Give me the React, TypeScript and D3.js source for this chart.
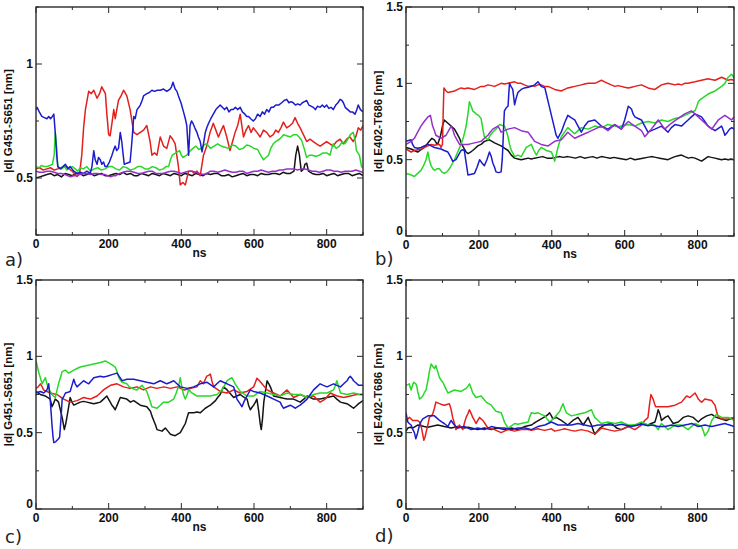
import React from "react";
import * as d3 from "d3";

type Pt = [number, number];

// ---------- x / y tick values ----------
const xMajorTicks = [0, 200, 400, 600, 800];
const xMinorTicks = [100, 300, 500, 700, 900];
const yMajorTicksTop = [0.5, 1];
const yMinorTicksTop = [0.25, 0.75, 1.25];
const yMajorTicksFull = [0, 0.5, 1, 1.5];
const yMinorTicksFull = [0.25, 0.75, 1.25];

const panelLetters = ["a)", "b)", "c)", "d)"];
const yTitles = ["|d| G451-S651 [nm]", "|d| E402-T686 [nm]", "|d| G451-S651 [nm]", "|d| E402-T686 [nm]"];
const xTitle = "ns";

const COLORS = {
  black: "#141414",
  red: "#e3201c",
  green: "#28d828",
  blue: "#1c1ccc",
  purple: "#9630cc",
};

// ---------- panel a ----------
const aBlack: Pt[] = [[0,0.50],[10,0.505],[20,0.51],[30,0.515],[40,0.52],[50,0.51],[60,0.515],[70,0.505],[80,0.52],[90,0.515],[100,0.51],[110,0.52],[120,0.52],[130,0.51],[140,0.515],[150,0.52],[160,0.51],[170,0.515],[180,0.52],[190,0.51],[200,0.51],[210,0.515],[220,0.52],[230,0.515],[240,0.525],[250,0.515],[260,0.52],[270,0.51],[280,0.51],[290,0.52],[300,0.515],[310,0.51],[320,0.52],[330,0.515],[340,0.51],[350,0.52],[360,0.515],[370,0.51],[380,0.52],[390,0.515],[400,0.51],[410,0.52],[420,0.515],[430,0.51],[440,0.52],[450,0.515],[460,0.51],[470,0.52],[480,0.515],[490,0.52],[500,0.52],[510,0.51],[520,0.51],[530,0.515],[540,0.505],[550,0.51],[560,0.515],[570,0.52],[580,0.51],[590,0.515],[600,0.515],[610,0.51],[620,0.52],[630,0.515],[640,0.515],[650,0.52],[660,0.52],[670,0.515],[680,0.525],[690,0.52],[700,0.52],[710,0.53],[715,0.6],[720,0.64],[725,0.6],[730,0.53],[737,0.54],[740,0.56],[745,0.565],[750,0.53],[760,0.52],[770,0.515],[780,0.515],[790,0.52],[800,0.51],[810,0.515],[820,0.52],[830,0.51],[840,0.515],[850,0.52],[860,0.52],[870,0.51],[880,0.515],[890,0.52],[900,0.51]];
const aRed: Pt[] = [[0,0.54],[10,0.545],[20,0.535],[30,0.54],[40,0.545],[50,0.535],[60,0.54],[70,0.545],[85,0.55],[95,0.535],[100,0.53],[113,0.507],[120,0.52],[126,0.6],[131,0.72],[136,0.8],[145,0.88],[152,0.87],[159,0.885],[168,0.85],[175,0.87],[181,0.9],[191,0.87],[195,0.78],[200,0.69],[204,0.685],[209,0.74],[214,0.8],[218,0.76],[227,0.84],[234,0.86],[241,0.885],[250,0.86],[259,0.8],[269,0.7],[278,0.69],[287,0.7],[296,0.71],[305,0.73],[314,0.66],[319,0.6],[326,0.61],[333,0.6],[342,0.68],[351,0.64],[360,0.63],[369,0.685],[376,0.67],[383,0.65],[392,0.55],[397,0.47],[404,0.48],[411,0.47],[420,0.53],[429,0.53],[436,0.52],[443,0.53],[452,0.51],[461,0.6],[470,0.64],[479,0.7],[488,0.74],[495,0.71],[502,0.68],[510,0.71],[516,0.73],[525,0.68],[534,0.62],[541,0.66],[548,0.7],[555,0.73],[562,0.78],[571,0.68],[578,0.71],[585,0.73],[592,0.7],[598,0.72],[608,0.7],[617,0.68],[626,0.71],[635,0.7],[644,0.68],[653,0.69],[660,0.71],[667,0.7],[674,0.72],[681,0.745],[690,0.72],[699,0.73],[706,0.74],[713,0.765],[720,0.74],[727,0.72],[736,0.69],[745,0.66],[754,0.67],[763,0.66],[772,0.65],[782,0.64],[791,0.65],[800,0.66],[809,0.65],[818,0.64],[827,0.66],[837,0.67],[846,0.65],[855,0.67],[864,0.68],[873,0.66],[880,0.68],[887,0.72],[894,0.71],[900,0.73]];
const aGreen: Pt[] = [[0,0.55],[8,0.545],[15,0.555],[23,0.55],[30,0.55],[38,0.555],[45,0.56],[50,0.6],[53,0.7],[57,0.63],[60,0.55],[65,0.545],[70,0.54],[78,0.55],[85,0.535],[92,0.545],[100,0.55],[108,0.54],[115,0.53],[122,0.545],[130,0.54],[140,0.55],[150,0.53],[160,0.54],[170,0.545],[180,0.535],[190,0.54],[200,0.55],[210,0.55],[220,0.54],[230,0.535],[240,0.55],[250,0.545],[260,0.535],[270,0.54],[280,0.55],[290,0.55],[300,0.54],[310,0.54],[320,0.55],[330,0.545],[340,0.535],[350,0.54],[358,0.55],[365,0.55],[370,0.58],[375,0.6],[385,0.61],[395,0.62],[400,0.6],[405,0.59],[415,0.6],[425,0.62],[432,0.63],[440,0.64],[448,0.625],[455,0.63],[462,0.645],[470,0.65],[480,0.63],[490,0.64],[500,0.65],[510,0.64],[520,0.635],[530,0.63],[540,0.645],[550,0.64],[560,0.625],[570,0.63],[580,0.645],[590,0.64],[600,0.63],[610,0.625],[618,0.6],[626,0.58],[633,0.59],[640,0.6],[646,0.63],[653,0.65],[660,0.66],[670,0.67],[676,0.68],[681,0.69],[690,0.685],[700,0.68],[709,0.69],[718,0.69],[724,0.68],[731,0.665],[738,0.63],[745,0.59],[752,0.6],[760,0.6],[770,0.595],[780,0.6],[790,0.61],[800,0.61],[809,0.6],[814,0.63],[818,0.65],[826,0.63],[835,0.64],[843,0.66],[850,0.65],[858,0.67],[865,0.69],[873,0.7],[878,0.67],[882,0.62],[890,0.6],[896,0.55],[900,0.545]];
const aBlue: Pt[] = [[0,0.8],[3,0.81],[9,0.79],[16,0.77],[23,0.765],[30,0.76],[35,0.77],[40,0.76],[45,0.77],[49,0.78],[53,0.7],[57,0.6],[60,0.55],[67,0.54],[74,0.55],[81,0.56],[88,0.54],[94,0.55],[104,0.53],[113,0.52],[122,0.525],[131,0.52],[140,0.53],[149,0.52],[154,0.55],[159,0.62],[163,0.58],[168,0.56],[172,0.59],[177,0.58],[181,0.56],[186,0.57],[190,0.55],[195,0.55],[202,0.57],[209,0.6],[213,0.62],[218,0.64],[222,0.62],[227,0.63],[232,0.7],[236,0.66],[240,0.6],[243,0.56],[250,0.565],[259,0.57],[264,0.66],[269,0.77],[273,0.76],[278,0.8],[283,0.81],[287,0.82],[292,0.84],[296,0.86],[300,0.865],[305,0.87],[312,0.875],[319,0.885],[326,0.88],[334,0.885],[342,0.885],[351,0.89],[360,0.88],[369,0.89],[373,0.9],[377,0.92],[383,0.89],[388,0.88],[392,0.86],[399,0.83],[406,0.79],[411,0.76],[415,0.73],[420,0.6],[424,0.73],[428,0.75],[432,0.74],[437,0.72],[443,0.7],[447,0.68],[452,0.66],[457,0.615],[462,0.66],[466,0.7],[470,0.72],[475,0.74],[481,0.76],[488,0.78],[495,0.8],[501,0.81],[507,0.82],[513,0.81],[519,0.8],[525,0.81],[531,0.79],[537,0.8],[543,0.8],[549,0.81],[555,0.8],[562,0.81],[568,0.79],[575,0.78],[580,0.77],[585,0.77],[591,0.76],[598,0.75],[604,0.76],[610,0.78],[617,0.77],[623,0.79],[629,0.78],[635,0.8],[641,0.79],[647,0.81],[653,0.81],[660,0.82],[668,0.82],[676,0.83],[683,0.84],[690,0.845],[696,0.83],[702,0.835],[708,0.83],[714,0.82],[720,0.825],[727,0.82],[733,0.83],[739,0.835],[745,0.84],[751,0.82],[757,0.815],[763,0.81],[769,0.8],[775,0.815],[782,0.81],[788,0.82],[794,0.81],[800,0.82],[806,0.805],[812,0.81],[818,0.8],[825,0.82],[831,0.83],[837,0.845],[842,0.84],[846,0.83],[851,0.81],[858,0.8],[865,0.79],[871,0.79],[878,0.78],[883,0.8],[887,0.82],[893,0.8],[900,0.79]];
const aPurple: Pt[] = [[0,0.53],[10,0.525],[20,0.525],[30,0.53],[40,0.53],[50,0.525],[60,0.52],[70,0.52],[80,0.515],[88,0.51],[95,0.505],[103,0.51],[110,0.51],[120,0.515],[130,0.52],[140,0.52],[150,0.515],[160,0.52],[170,0.52],[180,0.515],[190,0.515],[198,0.51],[205,0.505],[212,0.51],[220,0.51],[230,0.52],[240,0.525],[250,0.53],[260,0.53],[270,0.525],[280,0.52],[290,0.52],[300,0.525],[310,0.53],[320,0.53],[330,0.52],[340,0.52],[350,0.52],[360,0.525],[370,0.53],[380,0.53],[390,0.525],[400,0.52],[410,0.525],[420,0.53],[430,0.53],[440,0.525],[450,0.52],[460,0.515],[470,0.52],[480,0.53],[490,0.53],[500,0.525],[510,0.53],[520,0.535],[530,0.53],[540,0.525],[550,0.525],[560,0.53],[570,0.53],[580,0.52],[590,0.525],[600,0.53],[610,0.53],[620,0.535],[630,0.53],[640,0.525],[650,0.53],[660,0.53],[670,0.535],[680,0.535],[690,0.54],[700,0.54],[710,0.54],[720,0.535],[730,0.54],[740,0.54],[750,0.535],[760,0.53],[770,0.53],[780,0.525],[790,0.53],[800,0.535],[810,0.535],[820,0.53],[830,0.53],[840,0.525],[850,0.53],[860,0.53],[870,0.53],[880,0.535],[890,0.53],[900,0.525]];

// ---------- panel b ----------
const bBlack: Pt[] = [[0,0.58],[7,0.575],[14,0.57],[23,0.56],[32,0.55],[41,0.565],[50,0.58],[57,0.6],[64,0.62],[71,0.64],[78,0.63],[83,0.61],[87,0.6],[95,0.66],[100,0.72],[105,0.76],[112,0.745],[119,0.73],[126,0.715],[133,0.7],[140,0.67],[147,0.64],[153,0.6],[160,0.57],[165,0.55],[170,0.54],[177,0.55],[183,0.56],[190,0.575],[197,0.59],[206,0.6],[215,0.62],[222,0.625],[229,0.63],[236,0.62],[243,0.61],[252,0.6],[261,0.59],[270,0.575],[280,0.56],[289,0.53],[298,0.51],[307,0.505],[316,0.5],[325,0.505],[335,0.51],[344,0.505],[353,0.51],[364,0.515],[375,0.52],[387,0.51],[399,0.51],[410,0.515],[420,0.52],[432,0.515],[444,0.52],[455,0.515],[465,0.51],[478,0.52],[490,0.51],[501,0.515],[512,0.52],[524,0.51],[536,0.52],[548,0.515],[560,0.51],[571,0.515],[582,0.51],[594,0.505],[605,0.5],[616,0.51],[628,0.5],[639,0.505],[650,0.51],[662,0.515],[673,0.52],[685,0.515],[696,0.51],[708,0.505],[719,0.5],[728,0.51],[738,0.52],[747,0.525],[756,0.53],[765,0.52],[775,0.51],[784,0.515],[793,0.51],[802,0.5],[811,0.49],[820,0.505],[829,0.52],[838,0.515],[848,0.51],[857,0.505],[866,0.5],[875,0.505],[884,0.5],[892,0.505],[900,0.5]];
const bRed: Pt[] = [[0,0.57],[7,0.56],[14,0.55],[23,0.56],[32,0.565],[41,0.57],[50,0.58],[60,0.59],[69,0.6],[78,0.595],[86,0.6],[92,0.6],[96,0.58],[100,0.6],[102,0.8],[104,0.97],[110,0.95],[115,0.94],[124,0.945],[133,0.95],[142,0.96],[151,0.97],[160,0.965],[170,0.97],[179,0.965],[188,0.96],[197,0.97],[206,0.98],[215,0.98],[225,0.99],[234,0.985],[243,0.98],[252,0.99],[261,1.0],[270,0.995],[280,1.0],[289,1.005],[298,1.01],[307,1.0],[316,1.0],[325,0.99],[335,0.98],[344,0.985],[353,0.98],[362,0.99],[371,0.99],[380,0.98],[390,0.98],[399,0.97],[408,0.96],[417,0.955],[426,0.95],[435,0.96],[444,0.97],[453,0.975],[463,0.98],[472,0.985],[481,0.99],[490,0.995],[500,1.0],[509,1.0],[518,1.0],[527,1.01],[536,1.02],[545,1.01],[554,1.0],[563,0.99],[573,0.98],[582,0.985],[591,0.98],[600,0.975],[610,0.97],[619,0.975],[628,0.98],[637,0.985],[646,0.99],[655,0.98],[664,0.97],[673,0.965],[683,0.96],[692,0.975],[701,0.99],[710,0.995],[719,1.0],[728,0.995],[738,0.99],[747,0.995],[756,0.99],[765,1.0],[774,1.0],[783,1.005],[793,1.01],[802,1.015],[811,1.02],[820,1.025],[829,1.03],[838,1.025],[848,1.02],[857,1.03],[866,1.04],[875,1.03],[884,1.02],[892,1.025],[900,1.02]];
const bGreen: Pt[] = [[0,0.41],[8,0.405],[14,0.4],[23,0.39],[32,0.41],[41,0.43],[48,0.46],[55,0.5],[60,0.55],[64,0.5],[69,0.46],[74,0.44],[78,0.43],[85,0.44],[92,0.44],[98,0.42],[105,0.41],[112,0.42],[119,0.44],[126,0.47],[133,0.5],[142,0.55],[151,0.6],[158,0.65],[165,0.72],[170,0.8],[174,0.88],[179,0.85],[183,0.82],[188,0.81],[192,0.8],[199,0.79],[206,0.77],[211,0.7],[215,0.65],[220,0.64],[225,0.63],[231,0.66],[238,0.68],[242,0.69],[247,0.7],[252,0.715],[257,0.73],[263,0.725],[270,0.72],[275,0.69],[280,0.65],[284,0.6],[289,0.56],[294,0.54],[298,0.52],[307,0.53],[316,0.52],[323,0.55],[330,0.58],[337,0.59],[344,0.6],[351,0.56],[358,0.53],[364,0.56],[371,0.58],[378,0.57],[385,0.56],[392,0.555],[399,0.55],[404,0.52],[408,0.49],[412,0.53],[417,0.58],[422,0.62],[426,0.65],[435,0.68],[444,0.71],[453,0.69],[463,0.67],[472,0.69],[481,0.71],[490,0.705],[500,0.7],[509,0.71],[518,0.72],[527,0.715],[536,0.71],[545,0.72],[554,0.73],[563,0.725],[573,0.72],[582,0.715],[591,0.72],[600,0.725],[610,0.73],[619,0.725],[628,0.72],[637,0.73],[646,0.74],[655,0.745],[664,0.75],[673,0.745],[683,0.74],[692,0.75],[701,0.76],[710,0.755],[719,0.75],[728,0.76],[738,0.77],[747,0.775],[756,0.78],[765,0.79],[774,0.8],[783,0.81],[793,0.82],[798,0.85],[802,0.88],[806,0.89],[811,0.9],[820,0.915],[829,0.93],[838,0.94],[848,0.95],[857,0.965],[866,0.98],[875,1.0],[884,1.04],[889,1.05],[893,1.06],[897,1.05],[900,1.03]];
const bBlue: Pt[] = [[0,0.62],[7,0.625],[14,0.63],[18,0.6],[23,0.58],[32,0.575],[41,0.58],[50,0.59],[60,0.6],[69,0.59],[78,0.58],[87,0.575],[96,0.57],[105,0.56],[115,0.55],[122,0.52],[128,0.49],[133,0.495],[137,0.5],[144,0.53],[151,0.56],[156,0.565],[160,0.56],[165,0.48],[170,0.4],[179,0.405],[188,0.41],[195,0.45],[202,0.5],[208,0.48],[215,0.46],[222,0.5],[229,0.55],[234,0.52],[238,0.48],[243,0.45],[247,0.42],[254,0.415],[261,0.42],[264,0.5],[266,0.6],[268,0.72],[270,0.82],[275,0.84],[280,0.85],[282,0.93],[284,1.0],[288,0.98],[293,0.96],[296,0.9],[298,0.86],[302,0.9],[307,0.94],[316,0.96],[325,0.97],[335,0.975],[344,0.98],[353,0.99],[362,1.01],[367,0.995],[371,0.98],[376,0.975],[381,0.97],[385,0.93],[390,0.88],[399,0.79],[408,0.7],[412,0.66],[417,0.64],[421,0.66],[426,0.68],[435,0.74],[444,0.79],[453,0.775],[463,0.76],[472,0.72],[481,0.68],[490,0.72],[500,0.75],[509,0.755],[518,0.76],[527,0.74],[536,0.72],[545,0.71],[554,0.7],[563,0.715],[573,0.73],[582,0.715],[591,0.7],[600,0.76],[610,0.85],[615,0.84],[619,0.83],[623,0.8],[628,0.78],[637,0.77],[646,0.76],[655,0.72],[664,0.68],[673,0.69],[683,0.7],[692,0.71],[701,0.72],[710,0.7],[719,0.68],[728,0.71],[738,0.73],[747,0.725],[756,0.72],[765,0.74],[774,0.76],[783,0.78],[793,0.8],[802,0.79],[811,0.78],[820,0.75],[829,0.72],[838,0.705],[848,0.69],[857,0.705],[866,0.72],[871,0.69],[875,0.66],[882,0.68],[888,0.7],[894,0.71],[900,0.7]];
const bPurple: Pt[] = [[0,0.6],[7,0.61],[14,0.62],[23,0.64],[32,0.68],[41,0.72],[50,0.75],[60,0.78],[67,0.79],[73,0.72],[78,0.69],[82,0.66],[89,0.65],[96,0.64],[103,0.65],[110,0.66],[117,0.69],[124,0.72],[128,0.7],[133,0.66],[140,0.63],[147,0.6],[156,0.6],[165,0.6],[170,0.6],[179,0.605],[188,0.61],[197,0.615],[206,0.62],[215,0.64],[225,0.66],[231,0.68],[238,0.7],[245,0.71],[252,0.72],[257,0.7],[261,0.68],[270,0.69],[280,0.7],[289,0.705],[298,0.71],[307,0.7],[316,0.69],[325,0.685],[335,0.68],[344,0.65],[353,0.62],[362,0.61],[371,0.6],[380,0.595],[390,0.59],[399,0.605],[408,0.62],[417,0.625],[426,0.63],[435,0.655],[444,0.68],[453,0.66],[463,0.64],[472,0.65],[481,0.66],[490,0.67],[500,0.68],[509,0.69],[518,0.7],[527,0.71],[536,0.72],[545,0.705],[554,0.69],[563,0.71],[573,0.73],[582,0.715],[591,0.7],[600,0.725],[610,0.75],[619,0.735],[628,0.72],[637,0.705],[646,0.69],[651,0.67],[655,0.65],[664,0.675],[673,0.7],[683,0.73],[692,0.76],[701,0.73],[710,0.7],[719,0.72],[729,0.74],[738,0.755],[747,0.77],[756,0.785],[765,0.8],[774,0.81],[783,0.82],[793,0.8],[802,0.78],[811,0.76],[820,0.74],[829,0.72],[839,0.7],[848,0.73],[857,0.76],[866,0.775],[875,0.79],[884,0.775],[893,0.76],[900,0.78]];

// ---------- panel c ----------
const cBlack: Pt[] = [[0,0.77],[6,0.76],[12,0.75],[19,0.745],[26,0.74],[33,0.73],[39,0.72],[44,0.67],[48,0.69],[53,0.72],[58,0.71],[62,0.7],[67,0.65],[72,0.6],[78,0.52],[82,0.56],[85,0.6],[90,0.67],[94,0.73],[99,0.7],[104,0.68],[113,0.69],[122,0.7],[131,0.705],[140,0.7],[150,0.695],[159,0.69],[168,0.695],[177,0.7],[186,0.72],[195,0.74],[202,0.71],[209,0.68],[214,0.665],[218,0.65],[225,0.69],[232,0.73],[241,0.725],[250,0.72],[255,0.71],[260,0.7],[264,0.705],[269,0.71],[278,0.695],[287,0.68],[296,0.675],[305,0.67],[310,0.655],[315,0.64],[319,0.61],[324,0.58],[329,0.55],[333,0.52],[340,0.515],[347,0.51],[351,0.52],[356,0.53],[363,0.51],[370,0.49],[376,0.485],[383,0.48],[390,0.49],[397,0.5],[404,0.53],[411,0.56],[416,0.6],[420,0.63],[427,0.63],[434,0.63],[443,0.635],[452,0.63],[459,0.645],[466,0.66],[473,0.67],[480,0.68],[487,0.695],[494,0.71],[500,0.73],[507,0.75],[512,0.78],[516,0.8],[521,0.79],[526,0.78],[535,0.755],[544,0.73],[553,0.74],[562,0.75],[571,0.735],[581,0.72],[585,0.68],[590,0.65],[594,0.665],[599,0.68],[604,0.7],[608,0.72],[613,0.64],[617,0.56],[620,0.52],[623,0.58],[627,0.7],[632,0.78],[636,0.84],[641,0.82],[645,0.8],[650,0.77],[654,0.74],[663,0.735],[672,0.73],[681,0.725],[691,0.72],[700,0.72],[709,0.72],[718,0.71],[727,0.7],[737,0.72],[746,0.74],[755,0.73],[764,0.72],[773,0.72],[782,0.72],[791,0.725],[801,0.73],[810,0.735],[819,0.74],[828,0.72],[838,0.7],[847,0.695],[856,0.69],[865,0.675],[874,0.66],[881,0.675],[888,0.69],[894,0.7],[900,0.71]];
const cRed: Pt[] = [[0,0.79],[6,0.8],[12,0.82],[17,0.8],[21,0.78],[30,0.77],[39,0.76],[48,0.755],[58,0.75],[67,0.735],[76,0.72],[85,0.71],[94,0.7],[104,0.705],[113,0.71],[122,0.72],[131,0.73],[140,0.725],[150,0.72],[159,0.73],[168,0.74],[177,0.76],[186,0.78],[195,0.795],[205,0.81],[214,0.815],[223,0.82],[232,0.81],[241,0.8],[250,0.795],[260,0.79],[269,0.795],[278,0.8],[287,0.79],[296,0.78],[305,0.79],[315,0.8],[324,0.795],[333,0.79],[342,0.795],[352,0.8],[361,0.795],[370,0.79],[379,0.795],[389,0.8],[398,0.79],[407,0.78],[416,0.785],[426,0.79],[434,0.795],[443,0.8],[452,0.84],[457,0.83],[461,0.82],[466,0.85],[470,0.87],[475,0.875],[480,0.884],[484,0.84],[489,0.8],[498,0.785],[507,0.77],[516,0.765],[526,0.76],[535,0.77],[544,0.78],[553,0.77],[562,0.76],[571,0.765],[581,0.77],[590,0.785],[599,0.8],[604,0.83],[608,0.857],[615,0.84],[622,0.82],[629,0.8],[636,0.78],[645,0.77],[654,0.76],[663,0.75],[672,0.74],[681,0.76],[691,0.78],[700,0.755],[709,0.73],[718,0.74],[727,0.75],[737,0.74],[746,0.73],[755,0.735],[764,0.74],[773,0.72],[782,0.7],[789,0.71],[796,0.72],[803,0.74],[810,0.76],[819,0.75],[829,0.74],[838,0.735],[847,0.73],[856,0.735],[865,0.74],[874,0.745],[883,0.75],[891,0.75],[900,0.75]];
const cGreen: Pt[] = [[0,0.97],[4,0.93],[7,0.9],[12,0.86],[17,0.82],[21,0.84],[26,0.86],[30,0.82],[35,0.79],[39,0.77],[44,0.75],[48,0.74],[53,0.73],[58,0.78],[62,0.82],[67,0.86],[72,0.9],[76,0.905],[81,0.91],[85,0.9],[90,0.89],[97,0.9],[104,0.91],[113,0.92],[122,0.93],[131,0.935],[140,0.94],[150,0.945],[159,0.95],[168,0.955],[177,0.96],[184,0.965],[191,0.97],[198,0.96],[205,0.95],[212,0.94],[218,0.93],[223,0.9],[228,0.86],[232,0.845],[237,0.83],[244,0.825],[250,0.82],[257,0.8],[264,0.79],[271,0.785],[278,0.78],[285,0.795],[292,0.81],[298,0.79],[305,0.77],[312,0.72],[319,0.67],[326,0.665],[333,0.66],[342,0.68],[351,0.7],[358,0.7],[365,0.7],[372,0.71],[379,0.72],[386,0.76],[393,0.81],[397,0.86],[402,0.79],[406,0.75],[411,0.72],[416,0.75],[420,0.78],[425,0.77],[429,0.76],[436,0.75],[443,0.74],[452,0.74],[461,0.74],[470,0.74],[480,0.74],[489,0.745],[498,0.75],[505,0.765],[512,0.78],[519,0.81],[526,0.84],[532,0.85],[539,0.86],[544,0.84],[548,0.82],[555,0.795],[562,0.77],[571,0.755],[581,0.74],[590,0.74],[599,0.74],[608,0.755],[617,0.77],[627,0.765],[636,0.76],[645,0.755],[654,0.75],[663,0.745],[672,0.74],[681,0.75],[691,0.76],[700,0.755],[709,0.75],[718,0.75],[727,0.75],[737,0.74],[746,0.73],[755,0.74],[764,0.75],[773,0.755],[782,0.76],[791,0.76],[801,0.76],[810,0.77],[819,0.78],[824,0.81],[828,0.84],[833,0.8],[838,0.76],[847,0.755],[856,0.75],[865,0.755],[874,0.76],[883,0.755],[891,0.75],[900,0.75]];
const cBlue: Pt[] = [[0,0.76],[6,0.765],[12,0.77],[17,0.765],[21,0.76],[26,0.77],[30,0.78],[35,0.82],[39,0.72],[42,0.62],[44,0.55],[47,0.47],[49,0.435],[54,0.44],[58,0.45],[62,0.46],[65,0.47],[69,0.6],[72,0.72],[77,0.74],[81,0.76],[88,0.765],[94,0.77],[99,0.81],[104,0.85],[108,0.82],[113,0.8],[122,0.82],[131,0.84],[138,0.83],[145,0.82],[152,0.84],[159,0.86],[168,0.865],[177,0.87],[186,0.865],[195,0.87],[202,0.875],[209,0.88],[216,0.885],[223,0.89],[230,0.865],[237,0.84],[244,0.845],[250,0.85],[260,0.85],[269,0.85],[278,0.845],[287,0.84],[296,0.835],[305,0.83],[315,0.825],[324,0.82],[333,0.83],[342,0.84],[351,0.83],[360,0.82],[370,0.83],[379,0.84],[388,0.82],[397,0.8],[407,0.795],[416,0.79],[425,0.795],[434,0.8],[443,0.81],[452,0.82],[461,0.825],[471,0.83],[480,0.815],[489,0.8],[498,0.82],[507,0.84],[516,0.83],[526,0.82],[535,0.81],[544,0.8],[549,0.76],[553,0.72],[560,0.695],[567,0.67],[571,0.695],[576,0.72],[583,0.75],[590,0.78],[594,0.775],[599,0.77],[608,0.765],[617,0.76],[627,0.75],[636,0.74],[645,0.73],[654,0.72],[663,0.71],[672,0.7],[676,0.68],[681,0.66],[690,0.67],[700,0.68],[707,0.67],[714,0.66],[720,0.67],[727,0.68],[737,0.7],[746,0.72],[755,0.75],[764,0.78],[773,0.8],[782,0.82],[791,0.81],[801,0.8],[810,0.81],[819,0.82],[828,0.81],[838,0.8],[847,0.82],[856,0.84],[861,0.86],[865,0.87],[870,0.855],[874,0.84],[881,0.825],[888,0.81],[894,0.81],[900,0.81]];

// ---------- panel d ----------
const dBlack: Pt[] = [[0,0.51],[5,0.53],[12,0.535],[18,0.53],[25,0.54],[32,0.55],[41,0.545],[50,0.54],[60,0.535],[69,0.54],[78,0.545],[87,0.55],[96,0.545],[105,0.54],[115,0.535],[124,0.53],[133,0.535],[142,0.54],[151,0.535],[160,0.53],[170,0.535],[179,0.53],[188,0.525],[197,0.52],[206,0.525],[215,0.53],[225,0.525],[234,0.52],[243,0.525],[252,0.53],[261,0.525],[270,0.52],[280,0.525],[289,0.53],[298,0.525],[307,0.52],[316,0.53],[326,0.54],[335,0.545],[344,0.55],[350,0.56],[357,0.57],[364,0.58],[371,0.59],[378,0.6],[385,0.61],[390,0.62],[394,0.63],[399,0.61],[403,0.59],[408,0.595],[412,0.6],[419,0.59],[426,0.58],[435,0.565],[444,0.55],[451,0.565],[458,0.58],[465,0.59],[472,0.6],[479,0.575],[486,0.55],[493,0.575],[500,0.6],[504,0.575],[509,0.55],[513,0.52],[518,0.49],[525,0.51],[532,0.53],[538,0.54],[545,0.55],[554,0.555],[564,0.56],[571,0.545],[578,0.53],[585,0.525],[591,0.52],[600,0.53],[610,0.54],[619,0.545],[628,0.55],[637,0.555],[646,0.56],[655,0.555],[664,0.55],[673,0.56],[683,0.57],[688,0.61],[692,0.65],[697,0.62],[701,0.58],[706,0.59],[711,0.6],[715,0.605],[719,0.61],[726,0.585],[733,0.56],[740,0.565],[747,0.57],[754,0.585],[761,0.6],[767,0.605],[774,0.61],[781,0.605],[788,0.6],[795,0.585],[802,0.57],[806,0.58],[811,0.59],[818,0.6],[825,0.61],[832,0.615],[839,0.62],[845,0.61],[852,0.6],[859,0.595],[866,0.59],[872,0.585],[879,0.58],[889,0.59],[900,0.6]];
const dRed: Pt[] = [[0,0.575],[5,0.59],[9,0.6],[14,0.59],[18,0.58],[25,0.58],[32,0.58],[37,0.57],[41,0.55],[45,0.5],[49,0.45],[52,0.47],[55,0.5],[60,0.55],[64,0.6],[69,0.61],[73,0.62],[78,0.66],[82,0.7],[87,0.695],[92,0.69],[98,0.685],[105,0.68],[112,0.685],[119,0.69],[124,0.65],[128,0.6],[133,0.56],[137,0.52],[142,0.535],[147,0.55],[151,0.535],[156,0.52],[160,0.56],[165,0.6],[170,0.625],[174,0.65],[179,0.625],[183,0.6],[188,0.58],[192,0.56],[197,0.58],[202,0.6],[206,0.59],[211,0.58],[218,0.555],[225,0.53],[234,0.525],[243,0.52],[252,0.51],[261,0.5],[270,0.51],[280,0.52],[289,0.515],[298,0.51],[307,0.515],[316,0.52],[326,0.52],[335,0.52],[344,0.515],[353,0.52],[362,0.525],[371,0.52],[380,0.515],[390,0.52],[399,0.525],[408,0.51],[417,0.515],[426,0.52],[435,0.525],[444,0.52],[453,0.515],[463,0.51],[472,0.515],[481,0.52],[490,0.515],[500,0.51],[509,0.5],[518,0.49],[527,0.51],[536,0.53],[545,0.525],[554,0.52],[563,0.515],[573,0.51],[582,0.515],[591,0.52],[600,0.53],[610,0.54],[619,0.53],[628,0.52],[637,0.535],[646,0.55],[651,0.565],[655,0.58],[660,0.59],[664,0.6],[668,0.68],[672,0.75],[675,0.735],[678,0.72],[682,0.69],[685,0.67],[692,0.67],[701,0.67],[710,0.67],[719,0.67],[728,0.675],[738,0.68],[747,0.69],[756,0.7],[763,0.72],[770,0.74],[775,0.735],[779,0.73],[786,0.745],[793,0.76],[798,0.74],[802,0.72],[806,0.71],[811,0.7],[816,0.71],[820,0.72],[829,0.715],[839,0.71],[843,0.695],[848,0.68],[852,0.64],[857,0.6],[863,0.595],[870,0.59],[877,0.59],[884,0.59],[892,0.595],[900,0.6]];
const dGreen: Pt[] = [[0,0.81],[5,0.815],[9,0.82],[11,0.8],[14,0.78],[18,0.81],[21,0.83],[24,0.825],[27,0.82],[30,0.8],[32,0.77],[35,0.745],[37,0.72],[42,0.73],[46,0.74],[50,0.76],[55,0.78],[60,0.84],[64,0.9],[67,0.93],[69,0.95],[73,0.935],[78,0.92],[80,0.93],[82,0.94],[87,0.9],[92,0.86],[96,0.845],[101,0.83],[108,0.795],[115,0.76],[124,0.77],[133,0.78],[142,0.775],[151,0.77],[158,0.78],[165,0.79],[170,0.805],[174,0.82],[179,0.79],[183,0.76],[188,0.745],[192,0.73],[199,0.735],[206,0.74],[213,0.72],[220,0.7],[227,0.69],[234,0.68],[240,0.66],[247,0.64],[254,0.635],[261,0.63],[266,0.6],[270,0.57],[275,0.55],[280,0.53],[289,0.545],[298,0.56],[307,0.555],[316,0.56],[326,0.565],[335,0.57],[339,0.6],[344,0.63],[353,0.625],[362,0.63],[371,0.62],[381,0.61],[387,0.59],[394,0.57],[401,0.585],[408,0.6],[415,0.62],[422,0.64],[426,0.665],[431,0.69],[435,0.66],[440,0.63],[447,0.62],[454,0.61],[463,0.615],[472,0.62],[481,0.625],[490,0.63],[500,0.64],[509,0.65],[513,0.625],[518,0.6],[527,0.58],[536,0.56],[545,0.565],[554,0.57],[563,0.565],[573,0.56],[582,0.565],[591,0.57],[600,0.56],[610,0.55],[619,0.55],[628,0.55],[637,0.56],[646,0.57],[655,0.56],[664,0.55],[673,0.55],[683,0.55],[687,0.535],[692,0.52],[696,0.54],[701,0.56],[710,0.54],[719,0.52],[728,0.535],[738,0.55],[747,0.55],[756,0.55],[765,0.535],[774,0.52],[783,0.54],[793,0.56],[802,0.55],[811,0.54],[816,0.51],[820,0.48],[825,0.495],[829,0.51],[834,0.545],[839,0.58],[845,0.6],[852,0.62],[859,0.61],[866,0.6],[875,0.6],[884,0.6],[892,0.59],[900,0.58]];
const dBlue: Pt[] = [[0,0.63],[5,0.57],[9,0.56],[14,0.55],[18,0.525],[23,0.5],[27,0.46],[32,0.5],[37,0.55],[41,0.57],[46,0.59],[53,0.6],[60,0.61],[69,0.61],[78,0.61],[85,0.595],[92,0.58],[98,0.57],[105,0.56],[110,0.55],[115,0.54],[119,0.56],[124,0.58],[128,0.565],[133,0.55],[137,0.54],[142,0.53],[151,0.535],[160,0.54],[170,0.53],[179,0.52],[188,0.525],[197,0.53],[206,0.525],[215,0.52],[225,0.53],[234,0.54],[243,0.535],[252,0.53],[261,0.53],[270,0.53],[280,0.525],[289,0.52],[298,0.525],[307,0.53],[316,0.53],[326,0.53],[335,0.525],[344,0.52],[353,0.53],[362,0.54],[371,0.545],[381,0.55],[390,0.56],[399,0.57],[408,0.56],[417,0.55],[426,0.55],[436,0.55],[445,0.55],[454,0.55],[463,0.555],[472,0.56],[481,0.555],[490,0.55],[500,0.545],[509,0.54],[518,0.545],[527,0.55],[536,0.55],[545,0.55],[554,0.55],[564,0.55],[573,0.545],[582,0.55],[591,0.555],[600,0.55],[610,0.545],[619,0.54],[628,0.545],[637,0.55],[646,0.555],[655,0.55],[664,0.545],[673,0.55],[683,0.545],[692,0.54],[701,0.54],[711,0.54],[720,0.545],[729,0.55],[738,0.545],[747,0.54],[756,0.545],[765,0.55],[775,0.555],[784,0.56],[793,0.55],[802,0.54],[811,0.545],[820,0.55],[829,0.545],[839,0.54],[848,0.545],[857,0.55],[866,0.555],[875,0.56],[881,0.555],[888,0.55],[894,0.545],[900,0.54]];

// ---------- panel definitions ----------
interface Series { data: Pt[]; color: string; }
interface Panel {
  left: number; right: number; top: number; bottom: number;
  yDomain: [number, number];
  yMajor: number[]; yMinor: number[];
  series: Series[];
  letter: string; letterX: number; letterY: number;
  yTitle: string;
}

const panels: Panel[] = [
  {
    left: 36, right: 363, top: 7, bottom: 235, yDomain: [0.25, 1.25],
    yMajor: yMajorTicksTop, yMinor: yMinorTicksTop,
    series: [
      { data: aBlack, color: COLORS.black },
      { data: aRed, color: COLORS.red },
      { data: aGreen, color: COLORS.green },
      { data: aBlue, color: COLORS.blue },
      { data: aPurple, color: COLORS.purple },
    ],
    letter: panelLetters[0], letterX: 5, letterY: 266, yTitle: yTitles[0],
  },
  {
    left: 406, right: 734, top: 7, bottom: 236, yDomain: [0, 1.5],
    yMajor: yMajorTicksFull, yMinor: yMinorTicksFull,
    series: [
      { data: bBlack, color: COLORS.black },
      { data: bRed, color: COLORS.red },
      { data: bGreen, color: COLORS.green },
      { data: bBlue, color: COLORS.blue },
      { data: bPurple, color: COLORS.purple },
    ],
    letter: panelLetters[1], letterX: 375, letterY: 265, yTitle: yTitles[1],
  },
  {
    left: 36, right: 363, top: 280, bottom: 509, yDomain: [0, 1.5],
    yMajor: yMajorTicksFull, yMinor: yMinorTicksFull,
    series: [
      { data: cBlack, color: COLORS.black },
      { data: cRed, color: COLORS.red },
      { data: cGreen, color: COLORS.green },
      { data: cBlue, color: COLORS.blue },
    ],
    letter: panelLetters[2], letterX: 5, letterY: 543, yTitle: yTitles[2],
  },
  {
    left: 406, right: 734, top: 280, bottom: 509, yDomain: [0, 1.5],
    yMajor: yMajorTicksFull, yMinor: yMinorTicksFull,
    series: [
      { data: dBlack, color: COLORS.black },
      { data: dRed, color: COLORS.red },
      { data: dGreen, color: COLORS.green },
      { data: dBlue, color: COLORS.blue },
    ],
    letter: panelLetters[3], letterX: 375, letterY: 542, yTitle: yTitles[3],
  },
];

const FRAME = "#2a2a2a";
const BOLD_FONT = "'Liberation Sans', Arial, Helvetica, sans-serif";

function fmt(v: number) {
  return String(v);
}

function PanelView({ p, idx }: { p: Panel; idx: number }) {
  const x = d3.scaleLinear().domain([0, 900]).range([p.left, p.right]);
  const y = d3.scaleLinear().domain(p.yDomain).range([p.bottom, p.top]);
  const line = d3.line<Pt>().x((d) => x(d[0])).y((d) => y(d[1]));
  const clipId = `clip-${idx}`;
  const major = 6, minor = 3;
  const midY = (p.top + p.bottom) / 2;
  const midX = (p.left + p.right) / 2;
  return (
    <g>
      <defs>
        <clipPath id={clipId}>
          <rect x={p.left} y={p.top} width={p.right - p.left} height={p.bottom - p.top} />
        </clipPath>
      </defs>
      <rect x={p.left} y={p.top} width={p.right - p.left} height={p.bottom - p.top} fill="white" />
      <g clipPath={`url(#${clipId})`}>
        {p.series.map((s, i) => (
          <path key={i} d={line(s.data) || ""} fill="none" stroke={s.color} strokeWidth={1.5} strokeLinejoin="round" />
        ))}
      </g>
      {/* ticks */}
      <g stroke={FRAME} strokeWidth={1}>
        {xMajorTicks.map((t) => (
          <g key={"xM" + t}>
            <line x1={x(t)} x2={x(t)} y1={p.bottom} y2={p.bottom - major} />
            <line x1={x(t)} x2={x(t)} y1={p.top} y2={p.top + major} />
          </g>
        ))}
        {xMinorTicks.map((t) => (
          <g key={"xm" + t}>
            <line x1={x(t)} x2={x(t)} y1={p.bottom} y2={p.bottom - minor} />
            <line x1={x(t)} x2={x(t)} y1={p.top} y2={p.top + minor} />
          </g>
        ))}
        {p.yMajor.map((t) => (
          <g key={"yM" + t}>
            <line x1={p.left} x2={p.left + major} y1={y(t)} y2={y(t)} />
            <line x1={p.right} x2={p.right - major} y1={y(t)} y2={y(t)} />
          </g>
        ))}
        {p.yMinor.map((t) => (
          <g key={"ym" + t}>
            <line x1={p.left} x2={p.left + minor} y1={y(t)} y2={y(t)} />
            <line x1={p.right} x2={p.right - minor} y1={y(t)} y2={y(t)} />
          </g>
        ))}
      </g>
      <rect x={p.left} y={p.top} width={p.right - p.left} height={p.bottom - p.top} fill="none" stroke={FRAME} strokeWidth={1.4} />
      {/* tick labels */}
      <g fontFamily={BOLD_FONT} fontWeight="bold" fontSize={12} fill="#111">
        {xMajorTicks.map((t) => (
          <text key={"xl" + t} x={x(t)} y={p.bottom + 13} textAnchor="middle">{fmt(t)}</text>
        ))}
        {p.yMajor.map((t) => (
          <text key={"yl" + t} x={p.left - 3} y={y(t) + (t === p.yDomain[0] ? -1 : 4)} textAnchor="end">{fmt(t)}</text>
        ))}
        <text x={midX} y={p.bottom + 22} textAnchor="middle">{xTitle}</text>
        <text transform={`translate(${p.left - 24},${midY}) rotate(-90)`} textAnchor="middle" fontSize={11.5}>{p.yTitle}</text>
      </g>
      <text x={p.letterX} y={p.letterY} fontFamily="'DejaVu Sans', sans-serif" fontSize={18} fill="#222">{p.letter}</text>
    </g>
  );
}

export default function App() {
  return (
    <svg width={738} height={549} style={{ position: "absolute", left: 0, top: 0, display: "block", background: "white" }}>
      <rect x={0} y={0} width={738} height={549} fill="white" />
      {panels.map((p, i) => (
        <PanelView key={i} p={p} idx={i} />
      ))}
    </svg>
  );
}
